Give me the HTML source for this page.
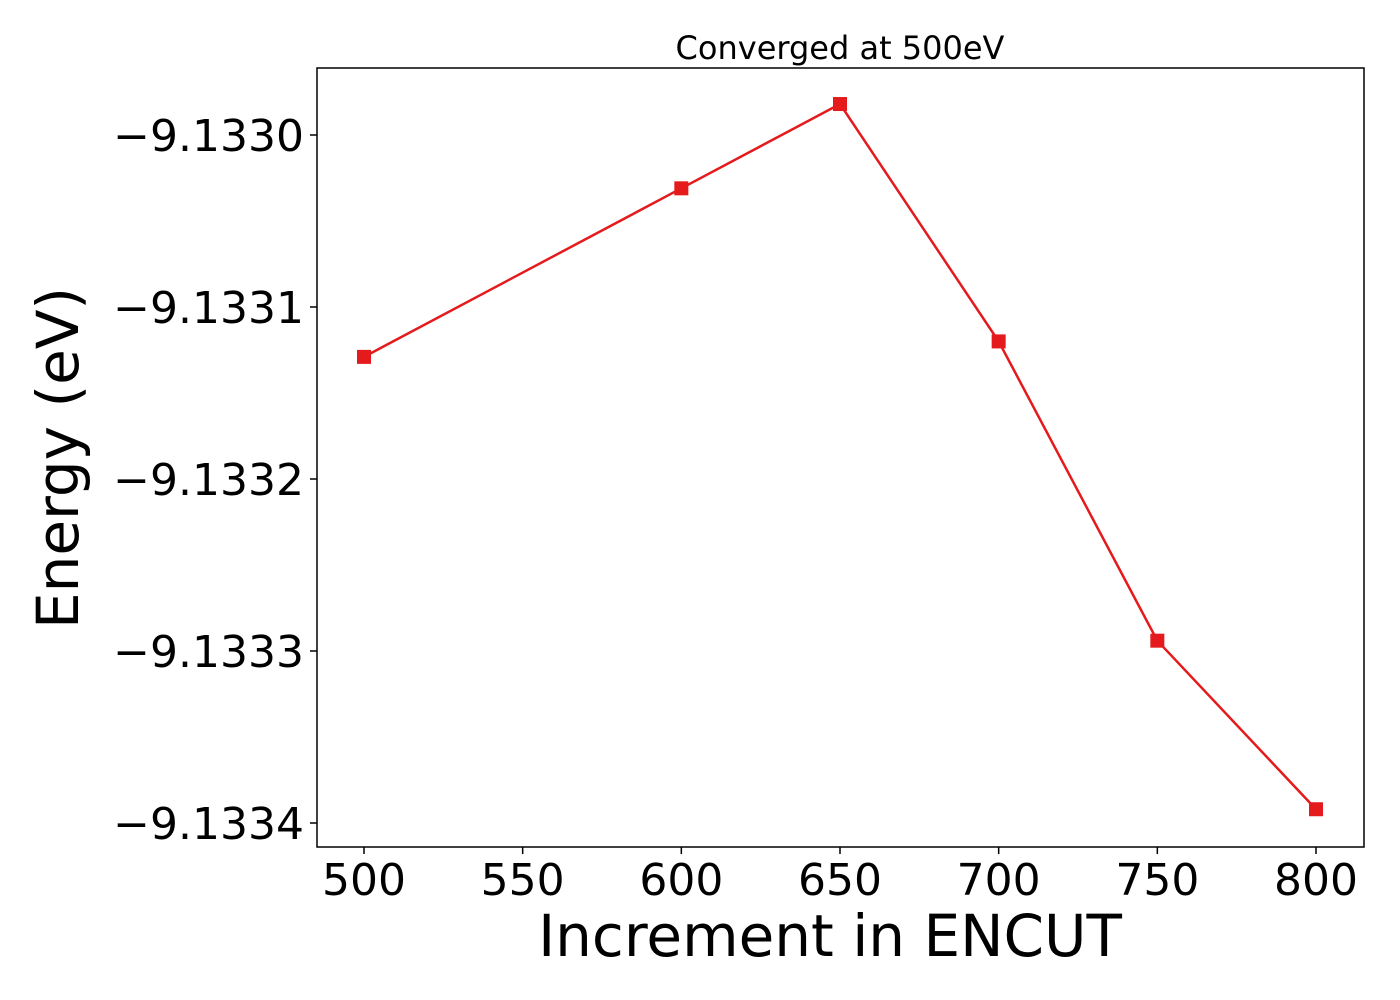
<!DOCTYPE html>
<html><head><meta charset="utf-8"><style>body{margin:0;background:#fff}svg{display:block}</style></head>
<body>
<svg id="chart" width="1400" height="1000" xmlns="http://www.w3.org/2000/svg" font-family="'DejaVu Sans','Liberation Sans',sans-serif">
<text x="840" y="59" font-size="32" text-anchor="middle">Converged at 500eV</text>
<g id="axes"></g>
<rect x="317" y="68" width="1047" height="779" fill="none" stroke="#000" stroke-width="1.5"/>
<text x="830" y="956" font-size="58" text-anchor="middle">Increment in ENCUT</text>
<text transform="translate(78,458) rotate(-90)" font-size="58" text-anchor="middle">Energy (eV)</text>
</svg>
<script>
const encut = [500, 600, 650, 700, 750, 800];
const energy = [-9.133129, -9.133031, -9.132982, -9.133120, -9.133294, -9.133392];
const xTicks = [500, 550, 600, 650, 700, 750, 800];
const yTicks = [-9.1330, -9.1331, -9.1332, -9.1333, -9.1334];
const yTickLabels = ["\u22129.1330", "\u22129.1331", "\u22129.1332", "\u22129.1333", "\u22129.1334"];

const xs = v => 364 + (v - 500) * (1316 - 364) / 300;
const ys = v => 135 + (-9.1330 - v) * 1720000;
const NS = "http://www.w3.org/2000/svg";
const g = document.getElementById("axes");
function mk(t, a) { const e = document.createElementNS(NS, t); for (const k in a) e.setAttribute(k, a[k]); g.appendChild(e); return e; }

xTicks.forEach(v => {
  const l = mk("line", {x1: xs(v), x2: xs(v), y1: 847, y2: 854, stroke: "#000", "stroke-width": 1.5});
  
  
  const t = mk("text", {x: xs(v), y: 895, "font-size": 44, "text-anchor": "middle"});
  
  
  t.textContent = v;
});
yTicks.forEach((v, i) => {
  const l = mk("line", {x1: 310, x2: 317, y1: ys(v), y2: ys(v), stroke: "#000", "stroke-width": 1.5});
  
  
  const t = mk("text", {x: 304, y: ys(v) + 16, "font-size": 44, "text-anchor": "end"});
  
  
  t.textContent = yTickLabels[i];
});
const line = mk("polyline", {points: encut.map((v, i) => xs(v) + "," + ys(energy[i])).join(" "), fill: "none", stroke: "#e41a1c", "stroke-width": 2.5});


encut.forEach((v, i) => {
  const r = mk("rect", {x: xs(v) - 7, y: ys(energy[i]) - 7, width: 14, height: 14, fill: "#e41a1c"});
  
  
});
</script>
</body></html>
